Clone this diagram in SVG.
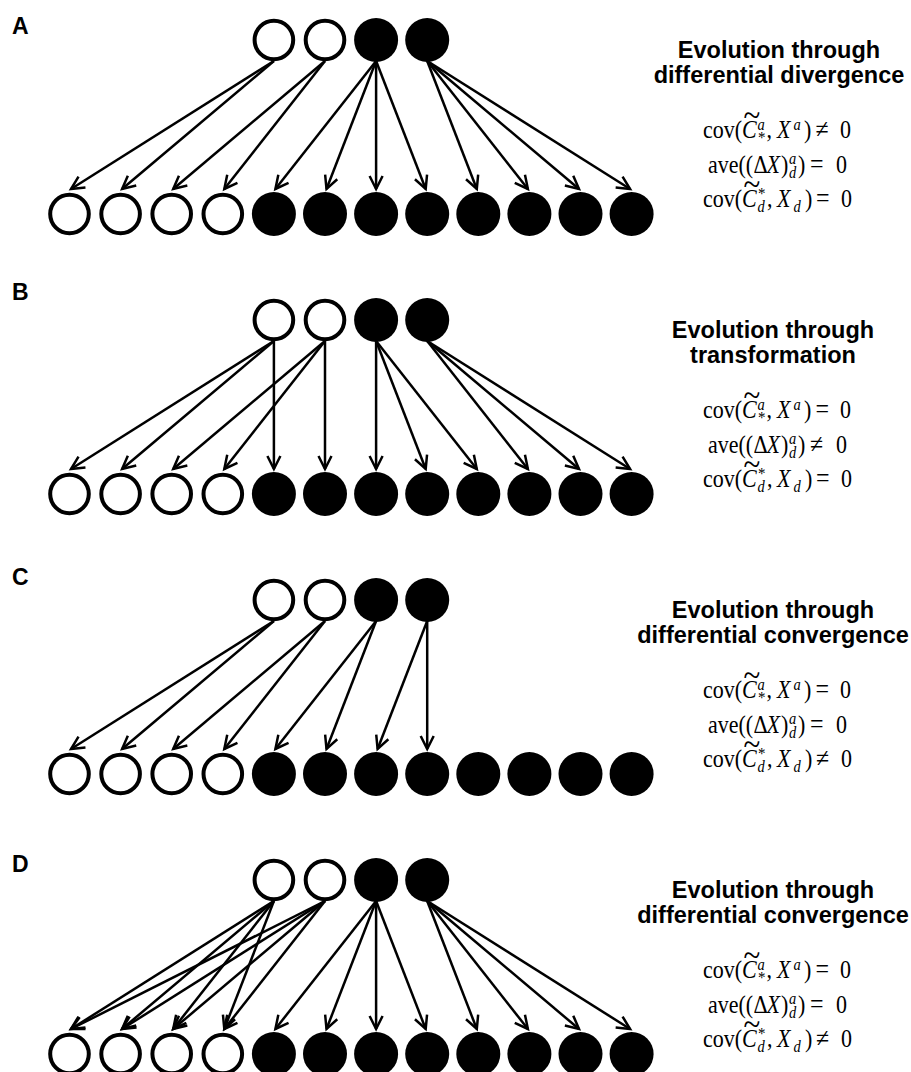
<svg xmlns="http://www.w3.org/2000/svg" width="911" height="1072" viewBox="0 0 911 1072">
<defs>
<style>
.w{fill:#fff;stroke:#000;stroke-width:4}
.b{fill:#000}
.lab{font-family:"Liberation Sans",Arial,sans-serif;font-weight:bold;font-size:23px;fill:#000}
.ttl{font-family:"Liberation Sans",Arial,sans-serif;font-weight:bold;font-size:23.5px;fill:#000;text-anchor:middle}
.f{font-family:"Liberation Serif","Times New Roman",serif;font-size:22px;fill:#000}
.i{font-style:italic}
.s{font-size:14.5px}
.st{font-size:15px}
.op{font-size:24px}
.tl{font-size:31px}
.cn line{stroke:#000;stroke-width:2.5;fill:none;marker-end:url(#ah)}
</style>
<marker id="ah" markerUnits="userSpaceOnUse" markerWidth="20" markerHeight="20" viewBox="-16 -10 20 20" refX="0" refY="0" orient="auto">
<path d="M-13,-6.5 L0,0 L-13,6.5" fill="none" stroke="#000" stroke-width="2.5"/>
</marker>
</defs>
<rect width="911" height="1072" fill="#fff"/>

<g id="labels">
<text class="lab" x="12" y="34">A</text>
<text class="lab" x="12" y="300">B</text>
<text class="lab" x="12" y="585">C</text>
<text class="lab" x="12" y="872">D</text>
</g>

<g id="nodesA">
<g id="A_p1"><circle class="w" cx="273.9" cy="40" r="19.3"/></g>
<g id="A_p2"><circle class="w" cx="325" cy="40" r="19.3"/></g>
<g id="A_p3"><circle class="b" cx="376.1" cy="40" r="22"/></g>
<g id="A_p4"><circle class="b" cx="427.2" cy="40" r="22"/></g>
<g id="A_o1"><circle class="w" cx="69.5" cy="214" r="19.3"/></g>
<g id="A_o2"><circle class="w" cx="120.6" cy="214" r="19.3"/></g>
<g id="A_o3"><circle class="w" cx="171.7" cy="214" r="19.3"/></g>
<g id="A_o4"><circle class="w" cx="222.8" cy="214" r="19.3"/></g>
<g id="A_o5"><circle class="b" cx="273.9" cy="214" r="22"/></g>
<g id="A_o6"><circle class="b" cx="325" cy="214" r="22"/></g>
<g id="A_o7"><circle class="b" cx="376.1" cy="214" r="22"/></g>
<g id="A_o8"><circle class="b" cx="427.2" cy="214" r="22"/></g>
<g id="A_o9"><circle class="b" cx="478.3" cy="214" r="22"/></g>
<g id="A_o10"><circle class="b" cx="529.4" cy="214" r="22"/></g>
<g id="A_o11"><circle class="b" cx="580.5" cy="214" r="22"/></g>
<g id="A_o12"><circle class="b" cx="631.6" cy="214" r="22"/></g>
</g>
<g id="nodesB">
<g id="B_p1"><circle class="w" cx="273.9" cy="320" r="19.3"/></g>
<g id="B_p2"><circle class="w" cx="325" cy="320" r="19.3"/></g>
<g id="B_p3"><circle class="b" cx="376.1" cy="320" r="22"/></g>
<g id="B_p4"><circle class="b" cx="427.2" cy="320" r="22"/></g>
<g id="B_o1"><circle class="w" cx="69.5" cy="494" r="19.3"/></g>
<g id="B_o2"><circle class="w" cx="120.6" cy="494" r="19.3"/></g>
<g id="B_o3"><circle class="w" cx="171.7" cy="494" r="19.3"/></g>
<g id="B_o4"><circle class="w" cx="222.8" cy="494" r="19.3"/></g>
<g id="B_o5"><circle class="b" cx="273.9" cy="494" r="22"/></g>
<g id="B_o6"><circle class="b" cx="325" cy="494" r="22"/></g>
<g id="B_o7"><circle class="b" cx="376.1" cy="494" r="22"/></g>
<g id="B_o8"><circle class="b" cx="427.2" cy="494" r="22"/></g>
<g id="B_o9"><circle class="b" cx="478.3" cy="494" r="22"/></g>
<g id="B_o10"><circle class="b" cx="529.4" cy="494" r="22"/></g>
<g id="B_o11"><circle class="b" cx="580.5" cy="494" r="22"/></g>
<g id="B_o12"><circle class="b" cx="631.6" cy="494" r="22"/></g>
</g>
<g id="nodesC">
<g id="C_p1"><circle class="w" cx="273.9" cy="600" r="19.3"/></g>
<g id="C_p2"><circle class="w" cx="325" cy="600" r="19.3"/></g>
<g id="C_p3"><circle class="b" cx="376.1" cy="600" r="22"/></g>
<g id="C_p4"><circle class="b" cx="427.2" cy="600" r="22"/></g>
<g id="C_o1"><circle class="w" cx="69.5" cy="774" r="19.3"/></g>
<g id="C_o2"><circle class="w" cx="120.6" cy="774" r="19.3"/></g>
<g id="C_o3"><circle class="w" cx="171.7" cy="774" r="19.3"/></g>
<g id="C_o4"><circle class="w" cx="222.8" cy="774" r="19.3"/></g>
<g id="C_o5"><circle class="b" cx="273.9" cy="774" r="22"/></g>
<g id="C_o6"><circle class="b" cx="325" cy="774" r="22"/></g>
<g id="C_o7"><circle class="b" cx="376.1" cy="774" r="22"/></g>
<g id="C_o8"><circle class="b" cx="427.2" cy="774" r="22"/></g>
<g id="C_o9"><circle class="b" cx="478.3" cy="774" r="22"/></g>
<g id="C_o10"><circle class="b" cx="529.4" cy="774" r="22"/></g>
<g id="C_o11"><circle class="b" cx="580.5" cy="774" r="22"/></g>
<g id="C_o12"><circle class="b" cx="631.6" cy="774" r="22"/></g>
</g>
<g id="nodesD">
<g id="D_p1"><circle class="w" cx="273.9" cy="880" r="19.3"/></g>
<g id="D_p2"><circle class="w" cx="325" cy="880" r="19.3"/></g>
<g id="D_p3"><circle class="b" cx="376.1" cy="880" r="22"/></g>
<g id="D_p4"><circle class="b" cx="427.2" cy="880" r="22"/></g>
<g id="D_o1"><circle class="w" cx="69.5" cy="1054" r="19.3"/></g>
<g id="D_o2"><circle class="w" cx="120.6" cy="1054" r="19.3"/></g>
<g id="D_o3"><circle class="w" cx="171.7" cy="1054" r="19.3"/></g>
<g id="D_o4"><circle class="w" cx="222.8" cy="1054" r="19.3"/></g>
<g id="D_o5"><circle class="b" cx="273.9" cy="1054" r="22"/></g>
<g id="D_o6"><circle class="b" cx="325" cy="1054" r="22"/></g>
<g id="D_o7"><circle class="b" cx="376.1" cy="1054" r="22"/></g>
<g id="D_o8"><circle class="b" cx="427.2" cy="1054" r="22"/></g>
<g id="D_o9"><circle class="b" cx="478.3" cy="1054" r="22"/></g>
<g id="D_o10"><circle class="b" cx="529.4" cy="1054" r="22"/></g>
<g id="D_o11"><circle class="b" cx="580.5" cy="1054" r="22"/></g>
<g id="D_o12"><circle class="b" cx="631.6" cy="1054" r="22"/></g>
</g>

<g id="connectors" class="cn">
<g id="connA">
<line x1="273.9" y1="61" x2="71" y2="189"/>
<line x1="273.9" y1="61" x2="122.1" y2="189"/>
<line x1="325" y1="61" x2="173.2" y2="189"/>
<line x1="325" y1="61" x2="224.3" y2="189"/>
<line x1="376.1" y1="61" x2="275.4" y2="189"/>
<line x1="376.1" y1="61" x2="326.5" y2="189"/>
<line x1="376.1" y1="61" x2="376.1" y2="189"/>
<line x1="376.1" y1="61" x2="425.7" y2="189"/>
<line x1="427.2" y1="61" x2="476.8" y2="189"/>
<line x1="427.2" y1="61" x2="527.9" y2="189"/>
<line x1="427.2" y1="61" x2="579" y2="189"/>
<line x1="427.2" y1="61" x2="630.1" y2="189"/>
</g>
<g id="connB">
<line x1="273.9" y1="341" x2="71" y2="469"/>
<line x1="273.9" y1="341" x2="122.1" y2="469"/>
<line x1="273.9" y1="341" x2="273.9" y2="469"/>
<line x1="325" y1="341" x2="173.2" y2="469"/>
<line x1="325" y1="341" x2="224.3" y2="469"/>
<line x1="325" y1="341" x2="325" y2="469"/>
<line x1="376.1" y1="341" x2="376.1" y2="469"/>
<line x1="376.1" y1="341" x2="425.7" y2="469"/>
<line x1="376.1" y1="341" x2="476.8" y2="469"/>
<line x1="427.2" y1="341" x2="527.9" y2="469"/>
<line x1="427.2" y1="341" x2="579" y2="469"/>
<line x1="427.2" y1="341" x2="630.1" y2="469"/>
</g>
<g id="connC">
<line x1="273.9" y1="621" x2="71" y2="749"/>
<line x1="273.9" y1="621" x2="122.1" y2="749"/>
<line x1="325" y1="621" x2="173.2" y2="749"/>
<line x1="325" y1="621" x2="224.3" y2="749"/>
<line x1="376.1" y1="621" x2="275.4" y2="749"/>
<line x1="376.1" y1="621" x2="326.5" y2="749"/>
<line x1="427.2" y1="621" x2="377.6" y2="749"/>
<line x1="427.2" y1="621" x2="427.2" y2="749"/>
</g>
<g id="connD">
<line x1="273.9" y1="901" x2="71" y2="1029"/>
<line x1="273.9" y1="901" x2="122.1" y2="1029"/>
<line x1="273.9" y1="901" x2="173.2" y2="1029"/>
<line x1="273.9" y1="901" x2="224.3" y2="1029"/>
<line x1="325" y1="901" x2="71" y2="1029"/>
<line x1="325" y1="901" x2="122.1" y2="1029"/>
<line x1="325" y1="901" x2="173.2" y2="1029"/>
<line x1="325" y1="901" x2="224.3" y2="1029"/>
<line x1="376.1" y1="901" x2="275.4" y2="1029"/>
<line x1="376.1" y1="901" x2="326.5" y2="1029"/>
<line x1="376.1" y1="901" x2="376.1" y2="1029"/>
<line x1="376.1" y1="901" x2="425.7" y2="1029"/>
<line x1="427.2" y1="901" x2="476.8" y2="1029"/>
<line x1="427.2" y1="901" x2="527.9" y2="1029"/>
<line x1="427.2" y1="901" x2="579" y2="1029"/>
<line x1="427.2" y1="901" x2="630.1" y2="1029"/>
</g>
</g>

<g id="titleA">
<text class="ttl" x="779" y="58">Evolution through</text>
<text class="ttl" x="779" y="83">differential divergence</text>
</g>
<g id="titleB">
<text class="ttl" x="773" y="338">Evolution through</text>
<text class="ttl" x="773" y="363">transformation</text>
</g>
<g id="titleC">
<text class="ttl" x="773" y="618">Evolution through</text>
<text class="ttl" x="773" y="643">differential convergence</text>
</g>
<g id="titleD">
<text class="ttl" x="773" y="898">Evolution through</text>
<text class="ttl" x="773" y="923">differential convergence</text>
</g>

<g id="eqA">
<g transform="translate(0,138) scale(1,1.12)">
<text class="f"><tspan x="703" y="0">cov(</tspan><tspan x="742" class="i">C</tspan><tspan x="743.6" y="-10.4" class="tl">~</tspan><tspan x="757.5" y="-7.5" class="i s">a</tspan><tspan x="758" y="4.5" class="st">*</tspan><tspan x="766.5" y="0">,</tspan><tspan x="777" class="i">X</tspan><tspan x="793.5" y="-7.5" class="i s">a</tspan><tspan x="804" y="0">)</tspan><tspan x="815.5" class="op">≠</tspan><tspan x="840">0</tspan></text>
</g>
<g transform="translate(0,172.5) scale(1,1.12)">
<text class="f"><tspan x="708" y="0">ave((</tspan><tspan x="753.5">Δ</tspan><tspan x="766.5" class="i">X</tspan><tspan x="781">)</tspan><tspan x="789" y="-7.5" class="i s">a</tspan><tspan x="789" y="4.5" class="i s">d</tspan><tspan x="798" y="0">)</tspan><tspan x="810" class="op">=</tspan><tspan x="836">0</tspan></text>
</g>
<g transform="translate(0,207) scale(1,1.12)">
<text class="f"><tspan x="703" y="0">cov(</tspan><tspan x="742" class="i">C</tspan><tspan x="743.6" y="-10.4" class="tl">~</tspan><tspan x="758" y="-7" class="st">*</tspan><tspan x="757.5" y="4.5" class="i s">d</tspan><tspan x="767" y="0">,</tspan><tspan x="777" class="i">X</tspan><tspan x="793.5" y="4.5" class="i s">d</tspan><tspan x="805" y="0">)</tspan><tspan x="816" class="op">=</tspan><tspan x="841">0</tspan></text>
</g>
</g>

<g id="eqB">
<g transform="translate(0,418) scale(1,1.12)">
<text class="f"><tspan x="703" y="0">cov(</tspan><tspan x="742" class="i">C</tspan><tspan x="743.6" y="-10.4" class="tl">~</tspan><tspan x="757.5" y="-7.5" class="i s">a</tspan><tspan x="758" y="4.5" class="st">*</tspan><tspan x="766.5" y="0">,</tspan><tspan x="777" class="i">X</tspan><tspan x="793.5" y="-7.5" class="i s">a</tspan><tspan x="804" y="0">)</tspan><tspan x="815.5" class="op">=</tspan><tspan x="840">0</tspan></text>
</g>
<g transform="translate(0,452.5) scale(1,1.12)">
<text class="f"><tspan x="708" y="0">ave((</tspan><tspan x="753.5">Δ</tspan><tspan x="766.5" class="i">X</tspan><tspan x="781">)</tspan><tspan x="789" y="-7.5" class="i s">a</tspan><tspan x="789" y="4.5" class="i s">d</tspan><tspan x="798" y="0">)</tspan><tspan x="810" class="op">≠</tspan><tspan x="836">0</tspan></text>
</g>
<g transform="translate(0,487) scale(1,1.12)">
<text class="f"><tspan x="703" y="0">cov(</tspan><tspan x="742" class="i">C</tspan><tspan x="743.6" y="-10.4" class="tl">~</tspan><tspan x="758" y="-7" class="st">*</tspan><tspan x="757.5" y="4.5" class="i s">d</tspan><tspan x="767" y="0">,</tspan><tspan x="777" class="i">X</tspan><tspan x="793.5" y="4.5" class="i s">d</tspan><tspan x="805" y="0">)</tspan><tspan x="816" class="op">=</tspan><tspan x="841">0</tspan></text>
</g>
</g>

<g id="eqC">
<g transform="translate(0,698) scale(1,1.12)">
<text class="f"><tspan x="703" y="0">cov(</tspan><tspan x="742" class="i">C</tspan><tspan x="743.6" y="-10.4" class="tl">~</tspan><tspan x="757.5" y="-7.5" class="i s">a</tspan><tspan x="758" y="4.5" class="st">*</tspan><tspan x="766.5" y="0">,</tspan><tspan x="777" class="i">X</tspan><tspan x="793.5" y="-7.5" class="i s">a</tspan><tspan x="804" y="0">)</tspan><tspan x="815.5" class="op">=</tspan><tspan x="840">0</tspan></text>
</g>
<g transform="translate(0,732.5) scale(1,1.12)">
<text class="f"><tspan x="708" y="0">ave((</tspan><tspan x="753.5">Δ</tspan><tspan x="766.5" class="i">X</tspan><tspan x="781">)</tspan><tspan x="789" y="-7.5" class="i s">a</tspan><tspan x="789" y="4.5" class="i s">d</tspan><tspan x="798" y="0">)</tspan><tspan x="810" class="op">=</tspan><tspan x="836">0</tspan></text>
</g>
<g transform="translate(0,767) scale(1,1.12)">
<text class="f"><tspan x="703" y="0">cov(</tspan><tspan x="742" class="i">C</tspan><tspan x="743.6" y="-10.4" class="tl">~</tspan><tspan x="758" y="-7" class="st">*</tspan><tspan x="757.5" y="4.5" class="i s">d</tspan><tspan x="767" y="0">,</tspan><tspan x="777" class="i">X</tspan><tspan x="793.5" y="4.5" class="i s">d</tspan><tspan x="805" y="0">)</tspan><tspan x="816" class="op">≠</tspan><tspan x="841">0</tspan></text>
</g>
</g>

<g id="eqD">
<g transform="translate(0,978) scale(1,1.12)">
<text class="f"><tspan x="703" y="0">cov(</tspan><tspan x="742" class="i">C</tspan><tspan x="743.6" y="-10.4" class="tl">~</tspan><tspan x="757.5" y="-7.5" class="i s">a</tspan><tspan x="758" y="4.5" class="st">*</tspan><tspan x="766.5" y="0">,</tspan><tspan x="777" class="i">X</tspan><tspan x="793.5" y="-7.5" class="i s">a</tspan><tspan x="804" y="0">)</tspan><tspan x="815.5" class="op">=</tspan><tspan x="840">0</tspan></text>
</g>
<g transform="translate(0,1012.5) scale(1,1.12)">
<text class="f"><tspan x="708" y="0">ave((</tspan><tspan x="753.5">Δ</tspan><tspan x="766.5" class="i">X</tspan><tspan x="781">)</tspan><tspan x="789" y="-7.5" class="i s">a</tspan><tspan x="789" y="4.5" class="i s">d</tspan><tspan x="798" y="0">)</tspan><tspan x="810" class="op">=</tspan><tspan x="836">0</tspan></text>
</g>
<g transform="translate(0,1047) scale(1,1.12)">
<text class="f"><tspan x="703" y="0">cov(</tspan><tspan x="742" class="i">C</tspan><tspan x="743.6" y="-10.4" class="tl">~</tspan><tspan x="758" y="-7" class="st">*</tspan><tspan x="757.5" y="4.5" class="i s">d</tspan><tspan x="767" y="0">,</tspan><tspan x="777" class="i">X</tspan><tspan x="793.5" y="4.5" class="i s">d</tspan><tspan x="805" y="0">)</tspan><tspan x="816" class="op">≠</tspan><tspan x="841">0</tspan></text>
</g>
</g>
</svg>
